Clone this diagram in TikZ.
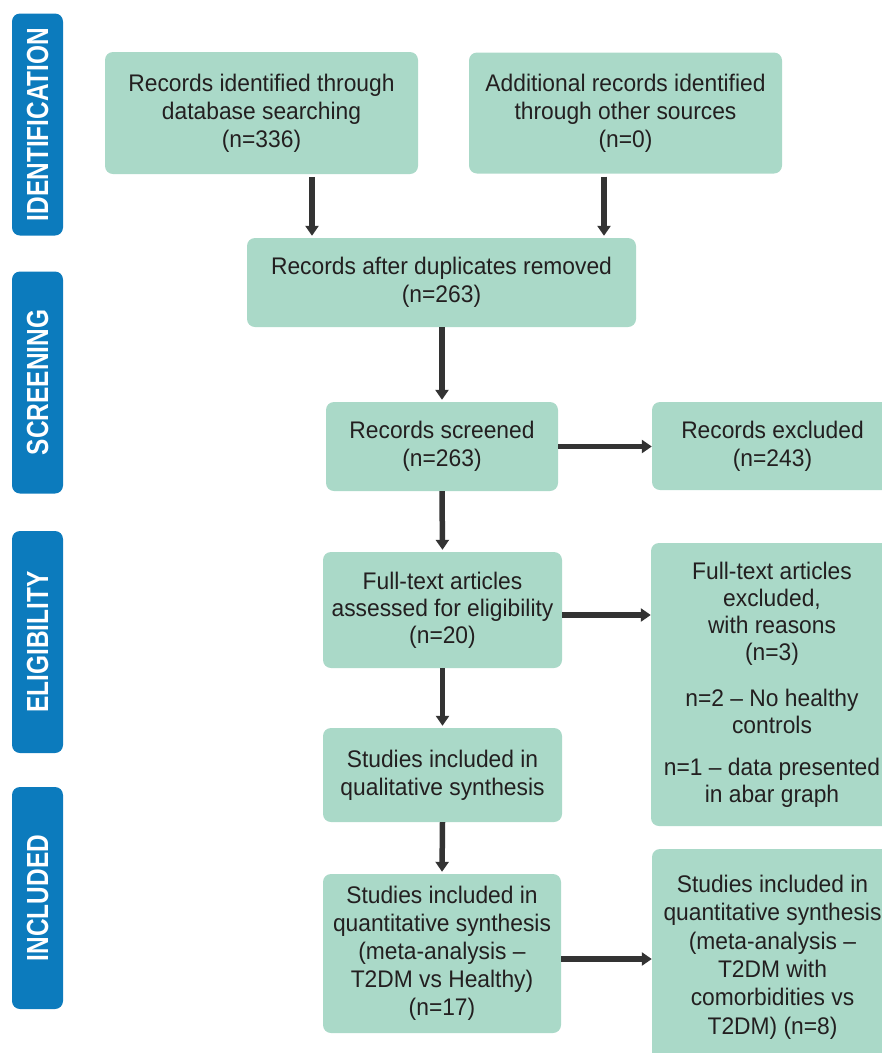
\documentclass[tikz,border=0pt]{standalone}
\usepackage{fontspec}
\setmainfont{Liberation Sans}[FakeStretch=0.95]
\newfontfamily\phasefont{Liberation Sans}[FakeStretch=0.8]
\usetikzlibrary{arrows.meta}
\definecolor{boxfill}{HTML}{AAD9C8}
\definecolor{phaseblue}{HTML}{0C7BBD}
\definecolor{arrowgray}{HTML}{333333}
\definecolor{txt}{HTML}{231F20}
\begin{document}
\begin{tikzpicture}[x=1pt,y=-1pt,
  box/.style={rectangle, rounded corners=8pt, fill=boxfill, text=txt, align=center,
    inner sep=0pt, font=\fontsize{24}{28}\selectfont},
  phase/.style={rectangle, rounded corners=8pt, fill=phaseblue, text=white, inner sep=0pt,
    font=\phasefont\bfseries\fontsize{30.5}{32}\selectfont,
    minimum width=222pt, minimum height=51pt, rotate=90},
  arr/.style={draw=arrowgray, line width=5.5pt, -{Triangle[width=13pt,length=10pt]}}]
\clip (0,0) rectangle (882,1053);
% phase labels
\node[phase] (p1) at (37.5,124.5) {IDENTIFICATION};
\node[phase] (p2) at (37.5,382.5) {SCREENING};
\node[phase] (p3) at (37.5,642) {ELIGIBILITY};
\node[phase] (p4) at (37.5,898) {INCLUDED};
% boxes
\node[box, minimum width=313pt, minimum height=122pt] (A) at (261.5,113)
  {Records identified through\\database searching\\(n=336)};
\node[box, minimum width=313pt, minimum height=121pt] (B) at (625.5,113)
  {Additional records identified\\through other sources\\(n=0)};
\node[box, minimum width=389pt, minimum height=89pt] (C) at (441.5,282.5)
  {Records after duplicates removed\\(n=263)};
\node[box, minimum width=232pt, minimum height=89pt] (D) at (442,446.5)
  {Records screened\\(n=263)};
\node[box, minimum width=241pt, minimum height=88pt] (E) at (772.5,446)
  {Records excluded\\(n=243)};
\node[box, minimum width=239pt, minimum height=116pt, font=\fontsize{24}{27}\selectfont] (F) at (442.5,610)
  {Full-text articles\\assessed for eligibility\\(n=20)};
\node[box, minimum width=242pt, minimum height=283pt, font=\fontsize{24}{27}\selectfont] (G) at (772,684.5)
  {Full-text articles\\excluded,\\with reasons\\(n=3)\\[19pt]n=2 – No healthy\\controls\\[15pt]n=1 – data presented\\in abar graph};
\node[box, minimum width=239pt, minimum height=94pt] (H) at (442.5,775)
  {Studies included in\\qualitative synthesis};
\node[box, minimum width=238pt, minimum height=159pt] (I) at (442,953.5)
  {Studies included in\\quantitative synthesis\\(meta-analysis –\\T2DM vs Healthy)\\(n=17)};
\node[box, minimum width=241pt, minimum height=216pt, font=\fontsize{24}{28.4}\selectfont] (J) at (772.5,957)
  {Studies included in\\quantitative synthesis\\(meta-analysis –\\T2DM with\\comorbidities vs\\T2DM) (n=8)};
% connectors
\coordinate (a1) at ([xshift=50.5pt,yshift=-3pt]A.south);
\coordinate (b1) at ([xshift=-21.5pt,yshift=-3pt]B.south);
\draw[arr, shorten >=2pt] (a1) -- (a1 |- C.north);
\draw[arr, shorten >=2pt] (b1) -- (b1 |- C.north);
\draw[arr, shorten >=2pt] (C.south -| D.north) -- (D.north);
\draw[arr] (D.east) -- (D.east -| E.west);
\draw[arr, shorten >=2pt] (D.south) -- (F.north);
\coordinate (f1) at ([yshift=-5pt]F.east);
\draw[arr] (f1) -- (f1 -| G.west);
\draw[arr, shorten >=2pt] (F.south) -- (H.north);
\draw[arr, shorten >=2pt] (H.south) -- (I.north);
\coordinate (i1) at ([yshift=-5.5pt]I.east);
\draw[arr] (i1) -- (i1 -| J.west);
\end{tikzpicture}
\end{document}
